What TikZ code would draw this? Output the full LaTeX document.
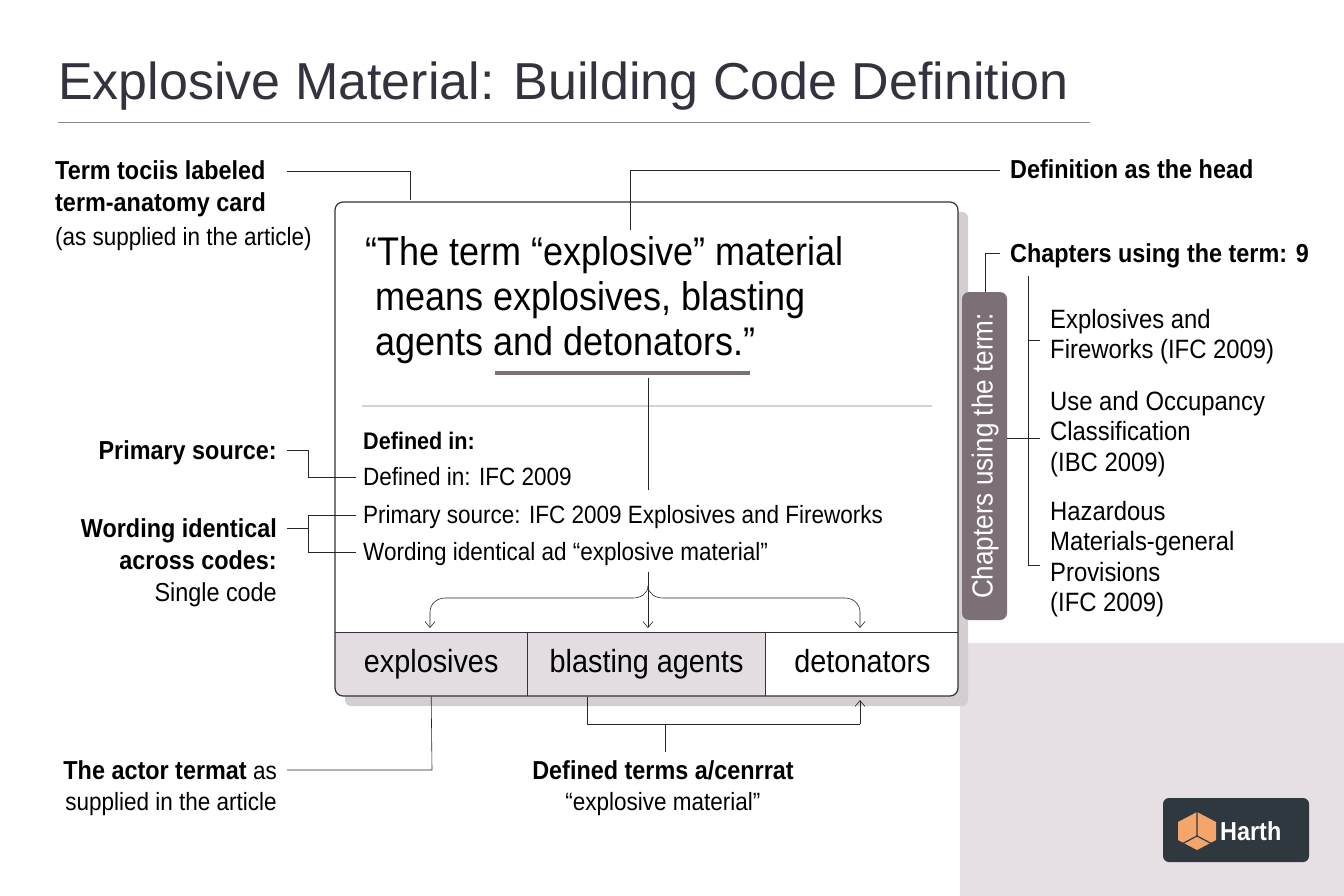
\documentclass[tikz,border=0pt]{standalone}
\usepackage{fontspec}
\setmainfont{Liberation Sans}[FakeStretch=0.9]
\newfontfamily\titlefont{Liberation Sans}
\usepackage{xcolor}
\definecolor{inkgray}{HTML}{33333F}
\definecolor{lavender}{HTML}{E6DFE4}
\definecolor{cellfill}{HTML}{E3DCE2}
\definecolor{tabmauve}{HTML}{7D6F78}
\definecolor{rulegray}{HTML}{D6D2D4}
\definecolor{logodark}{HTML}{2F383E}
\definecolor{logoorange}{HTML}{F4A56A}
\usetikzlibrary{positioning, arrows.meta}

\begin{document}
\begin{tikzpicture}[x=1pt, y=-1pt, >={Straight Barb[length=6pt, width=10pt]}]
	% ------------------------------------------------------------------
	% STYLE DEFINITIONS
	% ------------------------------------------------------------------
	\tikzset{
		lbl/.style   = {inner sep=0pt, font=\fontsize{25}{31}\selectfont},
		lblb/.style  = {lbl, font=\fontsize{26}{31}\selectfont\bfseries},
		lead/.style  = {semithick, black!85},
		cell/.style  = {minimum height=64pt, inner sep=0pt, text height=23pt, text depth=7pt, font=\fontsize{32}{36}\selectfont},
		item/.style  = {lbl, align=left, anchor=north west, font=\fontsize{26.5}{30.5}\selectfont}
	}
	\useasboundingbox (0,0) rectangle (1344,896);
	\fill[white] (0,0) rectangle (1344,896);
	\fill[lavender] (960,643) rectangle (1344,896);
	
	% --- Title ---
	\node[anchor=base west, inner sep=0pt, text=inkgray, font=\titlefont\fontsize{52}{56}\selectfont] (title) at (58,100) {Explosive Material: Building Code Definition};
	\draw[black!45] (58,122) -- (1090,122);
	
	% --- Card ---
	\fill[lavender!90!black!90, rounded corners=6pt] (345,212) rectangle (968,706);
	\fill[white, rounded corners=8pt] (335,202) rectangle (958,696);
	\node[anchor=north west, align=left, inner sep=0pt, font=\fontsize{40}{45}\selectfont] (quote) at (365,236)
		{“The term “explosive” material\\ \ means explosives, blasting\\ \ agents and detonators.”};
	\draw[line width=3.5pt, tabmauve] (495,373) -- (750,373);
	\draw[line width=2pt, rulegray] (362,406) -- (932,406);
	
	% --- Definition details ---
	\node[lblb, anchor=base west, font=\fontsize{24}{30}\selectfont\bfseries] (defhead) at (363,449) {Defined in:};
	\node[lbl, anchor=base west] (defin) at (363,485) {Defined in: IFC 2009};
	\node[lbl, anchor=base west] (primsrc) at (363,523) {Primary source: IFC 2009 Explosives and Fireworks};
	\node[lbl, anchor=base west] (wording) at (363,560) {Wording identical ad “explosive material”};
	\draw[lead] (648,378) -- (648,490);
	
	% --- Term cells ---
	\begin{scope}
		\clip[rounded corners=8pt] (335,202) rectangle (958,696);
		\fill[cellfill] (335,632) rectangle (765,696);
	\end{scope}
	\node[cell, minimum width=192pt, anchor=north west] (cexp) at (335,632) {explosives};
	\node[cell, minimum width=238pt, right=0pt of cexp] (cblast) {blasting agents};
	\node[cell, minimum width=193pt, right=0pt of cblast] (cdet) {detonators};
	\draw[black!80, semithick] (335,632) -- (958,632) (527,632) -- (527,696) (765,632) -- (765,696);
	\draw[black!80, line width=1.2pt, rounded corners=8pt] (335,202) rectangle (958,696);
	
	% --- Brace arrows ---
	\coordinate (bstem) at (648,572);
	\draw[lead, ->] (bstem) -- (648,628);
	\draw[lead, ->] (648,586) to[out=-90, in=0] (633,598) -- (445,598) to[out=180, in=90] (430,612) -- (430,628);
	\draw[lead, ->] (648,586) to[out=-90, in=180] (663,598) -- (845,598) to[out=0, in=90] (860,612) -- (860,628);
	
	% --- Left labels ---
	\node[lblb, anchor=base west, align=left] (tterm) at (55,180) {Term tociis labeled};
	\node[lblb, anchor=base west] (tcard) at (55,212) {term-anatomy card};
	\node[lbl, anchor=base west] (tsup) at (55,245) {(as supplied in the article)};
	\draw[lead] (287,171) -| (410,200);
	
	\node[lblb, anchor=base east] (lprim) at (277,459) {Primary source:};
	\draw[lead] (287,450) -- (308,450) |- (356,477);
	
	\node[lblb, anchor=base east] (lword) at (277,537) {Wording identical};
	\node[lblb, anchor=base east] (lacross) at (277,569) {across codes:};
	\node[lbl, anchor=base east, font=\fontsize{26}{31}\selectfont] (lsingle) at (277,601) {Single code};
	\draw[lead] (287,528) -- (308,528);
	\draw[lead] (356,515) -| (308,552) -- (356,552);
	
	\node[lbl, anchor=base east] (lactor2) at (277,810) {supplied in the article};
	\node[lbl, anchor=base east] (lactor) at (277,779) {\textbf{\fontsize{26}{31}\selectfont The actor termat} as};
	\draw[lead] (cexp.south) -- (432,770) -- (287,770);
	
	% --- Bottom label ---
	\node[lblb, anchor=base] (dterms) at (663,779) {Defined terms a/cenrrat};
	\node[lbl, anchor=base] (dexpl) at (663,810) {“explosive material”};
	\draw[lead] (587,697) |- (860,724);
	\draw[lead, ->] (860,724) -- (860,700);
	\draw[lead] (665,724) -- (665,752);
	
	% --- Definition head ---
	\node[lblb, anchor=base west] (dhead) at (1010,179) {Definition as the head};
	\draw[lead] (630,230) |- (1000,170);
	
	% --- Chapters tab ---
	\fill[tabmauve, rounded corners=7pt] (962,292) rectangle (1007,620);
	\node[rotate=90, text=white, inner sep=0pt, font=\fontsize{29}{32}\selectfont] (tab) at (985,456) {Chapters using the term:};
	\node[lblb, anchor=base west] (chead) at (1010,262) {Chapters using the term: 9};
	\draw[lead] (985,292) |- (1000,253);
	\draw[lead] (1007,438) -- (1028,438);
	\draw[lead] (1028,276) -- (1028,565);
	\foreach \yy in {340,438,565} \draw[lead] (1028,\yy) -- (1040,\yy);
	\node[item] (ch1) at (1050,309) {Explosives and\\Fireworks (IFC 2009)};
	\node[item] (ch2) at (1050,391) {Use and Occupancy\\Classification\\(IBC 2009)};
	\node[item] (ch3) at (1050,501) {Hazardous\\Materials-general\\Provisions\\(IFC 2009)};
	
	% --- Logo ---
	\fill[logodark, rounded corners=6pt] (1163,798) rectangle (1309,862);
	\fill[logoorange] (1178,822) -- (1197,812) -- (1216,822) -- (1216,840) -- (1197,850) -- (1178,840) -- cycle;
	\draw[logodark, line width=1.2pt] (1197,812) -- (1197,836) -- (1178,846) (1197,836) -- (1216,846);
	\node[text=white, anchor=west, inner sep=0pt, font=\fontsize{26}{30}\selectfont\bfseries] (logo) at (1220,831) {Harth};
\end{tikzpicture}
\end{document}
